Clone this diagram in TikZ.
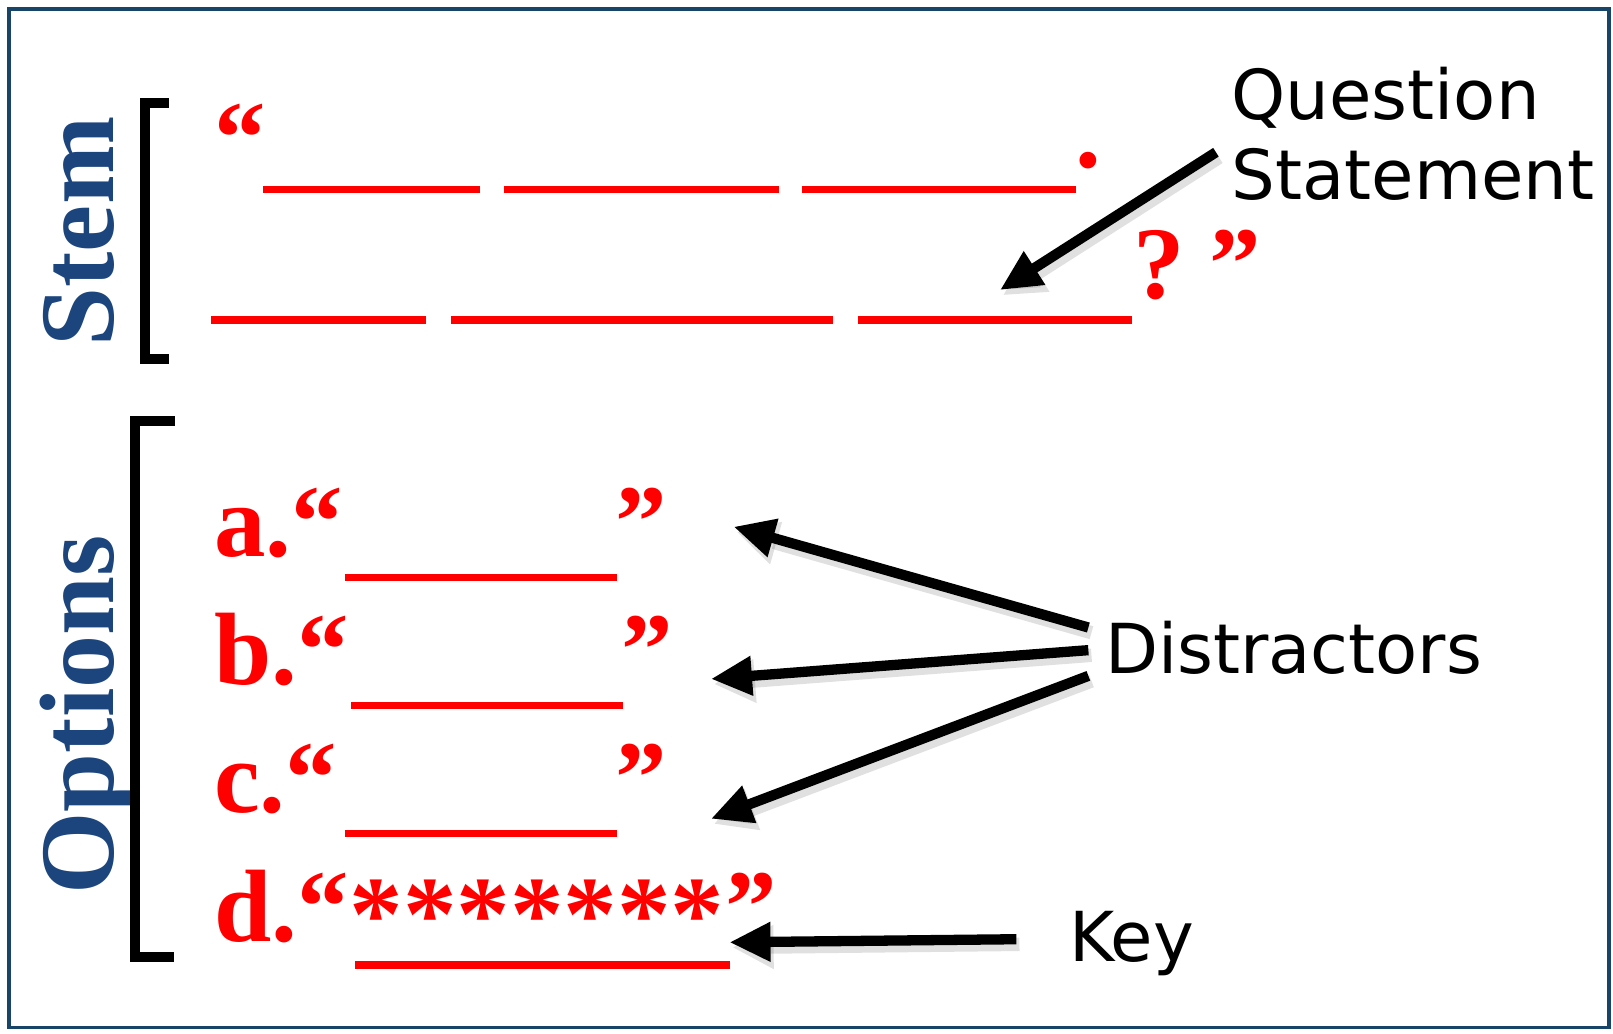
\documentclass[tikz,border=0pt]{standalone}
\usepackage{fontspec}
\usetikzlibrary{arrows.meta}
\newfontfamily\redfont{Liberation Serif}
\newfontfamily\lblfont{DejaVu Sans}
\definecolor{frameblue}{RGB}{24,68,104}
\definecolor{navy}{RGB}{28,69,125}
\definecolor{qred}{RGB}{255,0,0}
\begin{document}
\begin{tikzpicture}[x=1pt,y=-1pt,
  redtxt/.style={text=qred, font=\redfont\bfseries\fontsize{100}{100}\selectfont, inner sep=0pt, anchor=base west},
  blank/.style={draw=qred, line width=7pt},
  lbl/.style={font=\lblfont\fontsize{67}{80}\selectfont, inner sep=0pt, anchor=base west},
  side/.style={text=navy, font=\redfont\bfseries\fontsize{103}{103}\selectfont, inner sep=0pt, rotate=90, anchor=base},
  brk/.style={draw=black, line width=10pt, miter limit=10},
  pointer/.style={line width=10pt, -{Triangle[length=40pt,width=36pt]}},
  pshadow/.style={line width=13pt, draw=black, opacity=0.12, -{Triangle[length=40pt,width=40pt]}},
]
\useasboundingbox (0,0) rectangle (1568,1005);
\fill[white] (0,0) rectangle (1568,1005);
\draw[frameblue, line width=3.5pt] (9,9) rectangle (1564,999);

% side labels and brackets
\node[side] (stem) at (110,225) {Stem};
\node[side] (opts) at (110,695) {Options};
\draw[brk] (164,100) -- (141,100) -- (141,349) -- (164,349);
\draw[brk] (170,409) -- (131,409) -- (131,930) -- (169,930);

% stem
\node[redtxt] (oq) at (208,168) {“};
\draw[blank] (256,184) -- (467,184);
\draw[blank] (490,184) -- (757,184);
\draw[blank] (780,184) -- (1046,184);
\node[redtxt] (dot) at (1045,163) {.};
\draw[blank] (205,311) -- (414,311);
\draw[blank] (438,311) -- (810,311);
\draw[blank] (834,311) -- (1100,311);
\node[redtxt] (qm) at (1102,290) {?};
\node[redtxt] (cq) at (1176,290) {”};

% options
\node[redtxt] (oa) at (208,541) {a.“};
\node[redtxt] (ca) at (598,541) {”};
\draw[blank] (335,561) -- (600,561);
\node[redtxt] (ob) at (208,665) {b.“};
\node[redtxt] (cb) at (604,665) {”};
\draw[blank] (341,686) -- (606,686);
\node[redtxt] (oc) at (208,790) {c.“};
\node[redtxt] (cc) at (598,790) {”};
\draw[blank] (335,810) -- (600,810);
\node[redtxt] (od) at (208,915) {d.“};
\node[redtxt, font=\redfont\bfseries\fontsize{104}{104}\selectfont] (stars) at (340,924) {*******};
\node[redtxt] (cd) at (705,915) {”};
\draw[blank, line width=8pt] (345,938) -- (710,938);

% labels
\node[lbl] (q1) at (1197,116) {Question};
\node[lbl] (q2) at (1197,194) {Statement};
\node[lbl] (dis) at (1074,655) {Distractors};
\node[lbl] (key) at (1039,935) {Key};

% arrow ends
\coordinate (qsT) at (1182,148);
\coordinate (qsH) at (972,282);
\coordinate (daT) at (1058,610);
\coordinate (daH) at (713,512);
\coordinate (dbT) at (1058,632);
\coordinate (dbH) at (691,660);
\coordinate (dcT) at (1058,657);
\coordinate (dcH) at (691,796);
\coordinate (kT) at (988,913);
\coordinate (kH) at (709,916);

\foreach \a/\b in {qsT/qsH, daT/daH, dbT/dbH, dcT/dcH, kT/kH}{
  \draw[pshadow, transform canvas={shift={(3pt,-5pt)}}] (\a) -- (\b);
}
\draw[pointer] (qsT) -- (qsH);
\draw[pointer] (daT) -- (daH);
\draw[pointer] (dbT) -- (dbH);
\draw[pointer] (dcT) -- (dcH);
\draw[pointer] (kT) -- (kH);
\end{tikzpicture}
\end{document}
